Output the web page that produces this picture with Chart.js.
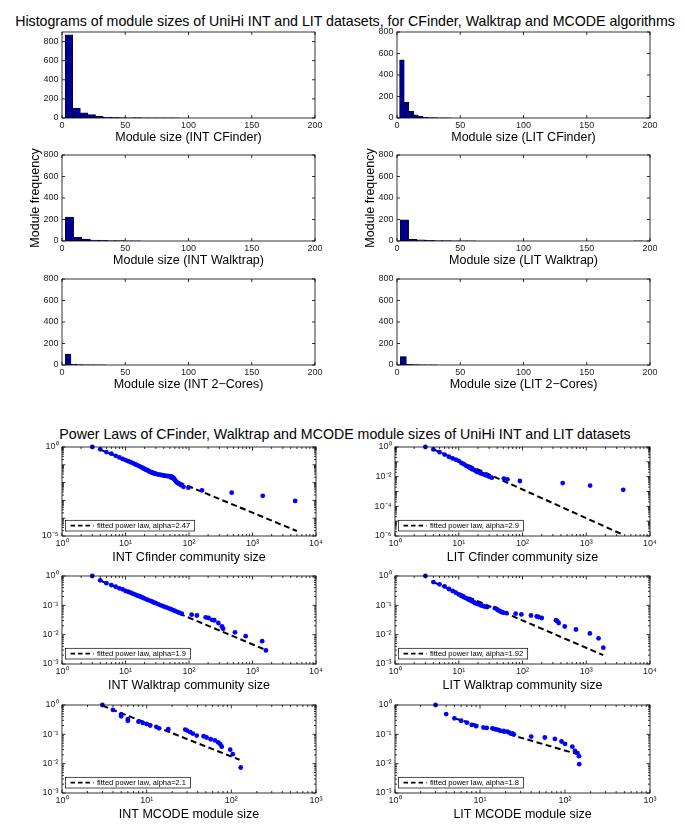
<!DOCTYPE html>
<html>
<head>
<meta charset="utf-8">
<script src="https://cdn.jsdelivr.net/npm/chart.js@4.4.1/dist/chart.umd.min.js"></script>
<style>
  body { margin: 0; background: #fff; width: 685px; height: 836px; position: relative; overflow: hidden;
         font-family: "Liberation Sans", Arial, Helvetica, sans-serif; }
  .suptitle { position: absolute; left: 0; width: 690px; text-align: center; font-size: 14.2px;
              line-height: 16px; color: #000; white-space: nowrap; }
</style>
</head>
<body>
<div class="suptitle" style="top:13px">Histograms of module sizes of UniHi INT and LIT datasets, for CFinder, Walktrap and MCODE algorithms</div>
<div class="suptitle" style="top:426px">Power Laws of CFinder, Walktrap and MCODE module sizes of UniHi INT and LIT datasets</div>
<script>
// === DATA: HISTOGRAMS (bin centres, counts) ===

const intCfBins   = [5.5, 11.5, 17.5, 23.5, 29.5, 35.5, 41.5, 47.5, 53.5, 59.5, 65.5, 71.5, 77.5, 83.5, 89.5];
const intCfCounts = [870, 105, 53, 35, 18, 10, 6, 4, 3, 5, 3, 2, 2, 1, 1];

const litCfBins   = [3.9, 7.6, 11.3, 15, 18.7, 22.4, 26.1, 29.8, 33.5, 37.2, 40.9];
const litCfCounts = [540, 145, 62, 30, 15, 8, 5, 3, 2, 2, 1];

const intWtBins   = [5.9, 12.5, 19.1, 25.7, 32.3, 38.9, 45.5, 52.1, 58.7];
const intWtCounts = [222, 33, 19, 9, 6, 5, 3, 2, 1];

const litWtBins   = [5.9, 12.5, 19.1, 25.7, 32.3, 38.9, 45.5, 52.1, 58.7, 190.7];
const litWtCounts = [197, 16, 10, 6, 3, 4, 2, 1, 1, 2];

const int2cBins   = [4.85, 9.35, 13.85, 18.35, 22.85, 27.35, 31.85];
const int2cCounts = [101, 8, 4, 2, 1, 1, 2];

const lit2cBins   = [5, 9.8, 14.6, 19.4, 24.2, 29];
const lit2cCounts = [79, 6, 3, 2, 1, 1];

const histXTicks = [0, 50, 100, 150, 200];
const histYTicks = [0, 200, 400, 600, 800];

// === DATA: POWER LAWS (size, cumulative frequency, fitted line ends) ===

const intCfSize = [3, 4, 5, 6, 7, 8, 9, 10, 11, 12, 13, 14, 15, 16, 17, 18, 19, 20, 21, 22, 23, 24, 25, 26, 27, 28, 29, 30,
                   32, 34, 36, 38, 40, 42, 44, 46, 48, 50, 52, 54, 56, 58, 60, 62, 64, 66, 70, 75, 82, 98, 160, 470, 1450, 4700];
const intCfFreq = [1, 0.74, 0.52, 0.42, 0.32, 0.26, 0.215, 0.185, 0.16, 0.14, 0.125, 0.11, 0.098, 0.088, 0.079, 0.071,
                   0.064, 0.058, 0.053, 0.049, 0.045, 0.042, 0.039, 0.037, 0.035, 0.033, 0.032, 0.031, 0.029, 0.028,
                   0.027, 0.026, 0.025, 0.024, 0.024, 0.023, 0.023, 0.022, 0.022, 0.021, 0.019, 0.017, 0.014, 0.012,
                   0.0105, 0.0095, 0.0085, 0.0072, 0.0058, 0.0052, 0.0037, 0.0027, 0.0018, 0.00093];
const intCfFitX = [3.9, 5000];
const intCfFitY = [0.74, 1.9e-5];

const litCfSize = [3, 4, 5, 6, 7, 8, 9, 10, 11, 12, 13, 14, 15, 16, 17, 18, 19, 20, 22, 24, 26, 28, 30, 33,
                   51, 58, 91, 427, 1150, 3800];
const litCfFreq = [1, 0.69, 0.45, 0.31, 0.22, 0.17, 0.14, 0.115, 0.085, 0.07, 0.055, 0.046, 0.039, 0.033, 0.03,
                   0.026, 0.022, 0.02, 0.017, 0.015, 0.013, 0.012, 0.01, 0.0085, 0.0074, 0.0066, 0.0051, 0.0037,
                   0.0025, 0.0013];
const litCfFitX = [4, 3800];
const litCfFitY = [0.7, 1.2e-6];

const intWtSize = [3, 4, 5, 6, 7, 8, 9, 10, 11, 12, 13, 14, 15, 16, 17, 18, 19, 20, 22, 24, 26, 28, 30, 33, 36, 40,
                   44, 48, 52, 56, 60, 65, 70, 77, 110, 133, 183, 203, 230, 250, 290, 330, 345, 530, 780, 1420, 1630];
const intWtFreq = [1, 0.71, 0.57, 0.49, 0.43, 0.38, 0.35, 0.31, 0.29, 0.27, 0.25, 0.235, 0.22, 0.21, 0.2, 0.19,
                   0.18, 0.17, 0.155, 0.145, 0.135, 0.125, 0.118, 0.108, 0.1, 0.092, 0.085, 0.079, 0.074, 0.069,
                   0.065, 0.06, 0.056, 0.052, 0.048, 0.045, 0.039, 0.037, 0.032, 0.031, 0.025, 0.019, 0.016,
                   0.012, 0.0089, 0.006, 0.0029];
const intWtFitX = [4, 1630];
const intWtFitY = [0.7, 0.003];

const litWtSize = [3, 4, 5, 6, 7, 8, 9, 10, 11, 12, 13, 14, 15, 16, 17, 18, 19, 20, 22, 24, 26, 28, 37, 40, 42, 45,
                   47, 50, 56, 78, 96, 136, 167, 178, 200, 335, 350, 370, 460, 690, 1140, 1560, 1850];
const litWtFreq = [1, 0.62, 0.52, 0.44, 0.36, 0.31, 0.27, 0.235, 0.21, 0.19, 0.175, 0.16, 0.15, 0.14, 0.13, 0.12,
                   0.115, 0.11, 0.1, 0.095, 0.09, 0.087, 0.08, 0.072, 0.067, 0.062, 0.059, 0.056, 0.054, 0.052,
                   0.049, 0.045, 0.042, 0.04, 0.037, 0.031, 0.029, 0.025, 0.019, 0.015, 0.011, 0.0075, 0.0036];
const litWtFitX = [4, 1850];
const litWtFitY = [0.62, 0.002];

const intMcSize = [3, 4, 5, 5, 6, 6, 8, 9, 10, 11, 13, 14, 18, 28.5, 30, 32.7, 35, 39, 47, 51, 57, 64, 70, 74, 77,
                   97, 104, 129];
const intMcFreq = [1, 0.68, 0.48, 0.41, 0.33, 0.29, 0.27, 0.245, 0.226, 0.2, 0.18, 0.16, 0.149, 0.145, 0.134,
                   0.118, 0.106, 0.091, 0.086, 0.078, 0.068, 0.062, 0.053, 0.046, 0.038, 0.03, 0.021, 0.0074];
const intMcFitX = [3, 125];
const intMcFitY = [0.95, 0.0136];

const litMcSize = [3, 4, 5, 6, 7, 8, 9, 11, 12, 14, 15, 16, 17, 19, 21, 22, 24, 25, 40, 58, 76, 91, 100, 122, 131,
                   140, 146, 147];
const litMcFreq = [1, 0.49, 0.35, 0.29, 0.25, 0.21, 0.19, 0.17, 0.165, 0.16, 0.15, 0.145, 0.135, 0.13, 0.124,
                   0.115, 0.107, 0.1, 0.084, 0.078, 0.07, 0.057, 0.047, 0.038, 0.027, 0.023, 0.018, 0.0096];
const litMcFitX = [5, 150];
const litMcFitY = [0.35, 0.02];

const decadesTo1e4 = [1, 10, 100, 1000, 10000];
const decadesTo1e3 = [1, 10, 100, 1000];
const intCfYTicks  = [1e-5, 1];
const litCfYTicks  = [1e-6, 1e-4, 1e-2, 1];
const threeDecades = [1e-3, 1e-2, 1e-1, 1];

// === STYLE / LAYOUT ===

const FONT     = '"Liberation Sans", Arial, Helvetica, sans-serif';
const BAR_FILL = "#00008f";
const DOT      = "#0000ff";
const PAD_L = 46, PAD_R = 12, PAD_T = 10, PAD_B = 34;

Chart.defaults.font.family = FONT;
Chart.defaults.color = "#000";

const SUP = { "0": "⁰", "1": "¹", "2": "²", "3": "³", "4": "⁴", "5": "⁵", "6": "⁶", "7": "⁷", "8": "⁸", "9": "⁹", "-": "⁻" };
const powLabel = (v) => "10" + String(Math.round(Math.log10(v))).split("").map((c) => SUP[c]).join("");
const pts = (xs, ys) => xs.map((x, i) => ({ x, y: ys[i] }));

// box round the plot with MATLAB-style inward ticks
const frameTicks = {
  id: "frameTicks",
  afterDraw(chart) {
    const { ctx, chartArea: a, scales: { x, y } } = chart;
    const marks = (scale) => {
      if (scale.type !== "logarithmic") return scale.ticks.map((t) => [t.value, 3]);
      const out = [];
      const e0 = Math.floor(Math.log10(scale.min) + 1e-9);
      const e1 = Math.ceil(Math.log10(scale.max) - 1e-9);
      for (let e = e0; e <= e1; e++) {
        for (let m = 1; m < 10; m++) {
          const v = m * Math.pow(10, e);
          if (v < scale.min * 0.999 || v > scale.max * 1.001) continue;
          out.push([v, m === 1 ? 3.5 : 2]);
        }
      }
      return out;
    };
    ctx.save();
    ctx.strokeStyle = "#000";
    ctx.lineWidth = 0.8;
    ctx.beginPath();
    marks(x).forEach(([v, len]) => {
      const px = x.getPixelForValue(v);
      ctx.moveTo(px, a.bottom); ctx.lineTo(px, a.bottom - len);
      ctx.moveTo(px, a.top);    ctx.lineTo(px, a.top + len);
    });
    marks(y).forEach(([v, len]) => {
      const py = y.getPixelForValue(v);
      ctx.moveTo(a.left, py);  ctx.lineTo(a.left + len, py);
      ctx.moveTo(a.right, py); ctx.lineTo(a.right - len, py);
    });
    ctx.stroke();
    ctx.strokeRect(a.left, a.top, a.right - a.left, a.bottom - a.top);
    ctx.restore();
  },
};

// small legend box in the lower left corner
const fitLegend = {
  id: "fitLegend",
  afterDraw(chart, args, opts) {
    if (!opts.text) return;
    const { ctx, chartArea: a } = chart;
    ctx.save();
    ctx.font = `7.5px ${FONT}`;
    const tw = ctx.measureText(opts.text).width;
    const bx = a.left + 3.5, bh = 10.7, by = a.bottom - 5 - bh, bw = tw + 36;
    ctx.fillStyle = "#fff";
    ctx.fillRect(bx, by, bw, bh);
    ctx.strokeStyle = "#000";
    ctx.lineWidth = 0.7;
    ctx.strokeRect(bx, by, bw, bh);
    ctx.lineWidth = 1.6;
    ctx.setLineDash([4.5, 3]);
    ctx.beginPath();
    ctx.moveTo(bx + 5, by + bh / 2);
    ctx.lineTo(bx + 28, by + bh / 2);
    ctx.stroke();
    ctx.setLineDash([]);
    ctx.fillStyle = "#000";
    ctx.textBaseline = "middle";
    ctx.fillText(opts.text, bx + 31.5, by + bh / 2 + 0.5);
    ctx.restore();
  },
};

const place = (L, T, w, h) => {
  const c = document.createElement("canvas");
  c.width  = PAD_L + w + PAD_R;
  c.height = PAD_T + h + PAD_B;
  c.style.cssText = `position:absolute;left:${L - PAD_L}px;top:${T - PAD_T}px`;
  document.body.appendChild(c);
  return c.getContext("2d");
};

const xAxis = (type, min, max, ticks, fmt, title, titleOffset) => ({
  type, min, max, offset: false,
  afterBuildTicks: (s) => { s.ticks = ticks.map((v) => ({ value: v })); },
  afterFit: (s) => { s.height = PAD_B; },
  grid: { display: false, drawTicks: false },
  border: { display: false },
  ticks: { font: { size: 9 }, color: "#222", padding: 2, maxRotation: 0, autoSkip: false, callback: fmt },
  title: { display: true, text: title, color: "#000", font: { size: 12.5 },
           padding: { top: 0, bottom: PAD_B - 7.5 - titleOffset } },
});

const yAxis = (type, min, max, ticks, fmt, title) => ({
  type, min, max,
  afterBuildTicks: (s) => { s.ticks = ticks.map((v) => ({ value: v })); },
  afterFit: (s) => { s.width = PAD_L; },
  grid: { display: false, drawTicks: false },
  border: { display: false },
  ticks: { font: { size: 9 }, color: "#222", padding: 3.5, autoSkip: false, callback: fmt },
  title: { display: !!title, text: title || "", color: "#000", font: { size: 12.5 },
           padding: { top: PAD_L - 26.7 - 7.5, bottom: 0 } },
});

const baseOptions = (legendText) => ({
  responsive: false,
  animation: false,
  layout: { padding: { top: PAD_T, right: PAD_R, left: 0, bottom: 0 }, autoPadding: false },
  plugins: { legend: { display: false }, tooltip: { enabled: false }, fitLegend: { text: legendText } },
});

// === HISTOGRAMS ===

const histogram = (L, T, bins, counts, yMax, xTitle, yTitle) => {
  const w = 253, h = 86;
  return new Chart(place(L, T, w, h), {
    type: "bar",
    data: {
      datasets: [{
        data: pts(bins, counts),
        backgroundColor: BAR_FILL,
        borderColor: "#000",
        borderWidth: 0.6,
        borderSkipped: false,
        categoryPercentage: 1,
        barPercentage: 1,
      }],
    },
    options: {
      ...baseOptions(""),
      scales: {
        x: xAxis("linear", 0, 200, histXTicks, (v) => String(v), xTitle, 20),
        y: yAxis("linear", 0, yMax, histYTicks, (v) => String(v), yTitle),
      },
    },
    plugins: [frameTicks],
  });
};

histogram(62, 32, intCfBins, intCfCounts, 900, "Module size (INT CFinder)");
histogram(397, 32, litCfBins, litCfCounts, 800, "Module size (LIT CFinder)");
histogram(62, 155, intWtBins, intWtCounts, 800, "Module size (INT Walktrap)", "Module frequency");
histogram(397, 155, litWtBins, litWtCounts, 800, "Module size (LIT Walktrap)", "Module frequency");
histogram(62, 279, int2cBins, int2cCounts, 800, "Module size (INT 2\u2212Cores)");
histogram(397, 279, lit2cBins, lit2cCounts, 800, "Module size (LIT 2\u2212Cores)");

// === POWER LAWS ===

const powerLaw = (L, T, w, h, size, freq, fitX, fitY, alpha, xMax, xTicks, yMin, yTicks, xTitle) =>
  new Chart(place(L, T, w, h), {
    type: "scatter",
    data: {
      datasets: [
        {
          data: pts(size, freq),
          backgroundColor: DOT,
          borderColor: DOT,
          pointRadius: 2.4,
          pointBorderWidth: 0,
          showLine: false,
          clip: false,
        },
        {
          data: pts(fitX, fitY),
          borderColor: "#000",
          borderWidth: 2,
          borderDash: [6, 3.5],
          pointRadius: 0,
          showLine: true,
          fill: false,
        },
      ],
    },
    options: {
      ...baseOptions(`fitted power law, alpha=${alpha}`),
      scales: {
        x: xAxis("logarithmic", 1, xMax, xTicks, powLabel, xTitle, 21.5),
        y: yAxis("logarithmic", yMin, 1, yTicks, powLabel),
      },
    },
    plugins: [frameTicks, fitLegend],
  });

powerLaw(62, 447, 254, 89, intCfSize, intCfFreq, intCfFitX, intCfFitY, "2.47", 1e4, decadesTo1e4, 1e-5, intCfYTicks, "INT Cfinder community size");
powerLaw(395, 447, 255, 89, litCfSize, litCfFreq, litCfFitX, litCfFitY, "2.9", 1e4, decadesTo1e4, 1e-6, litCfYTicks, "LIT Cfinder community size");
powerLaw(62, 576, 254, 88, intWtSize, intWtFreq, intWtFitX, intWtFitY, "1.9", 1e4, decadesTo1e4, 1e-3, threeDecades, "INT Walktrap community size");
powerLaw(395, 576, 255, 88, litWtSize, litWtFreq, litWtFitX, litWtFitY, "1.92", 1e4, decadesTo1e4, 1e-3, threeDecades, "LIT Walktrap community size");
powerLaw(62, 705, 254, 88, intMcSize, intMcFreq, intMcFitX, intMcFitY, "2.1", 1e3, decadesTo1e3, 1e-3, threeDecades, "INT MCODE module size");
powerLaw(395, 705, 255, 88, litMcSize, litMcFreq, litMcFitX, litMcFitY, "1.8", 1e3, decadesTo1e3, 1e-3, threeDecades, "LIT MCODE module size");
</script>
</body>
</html>
